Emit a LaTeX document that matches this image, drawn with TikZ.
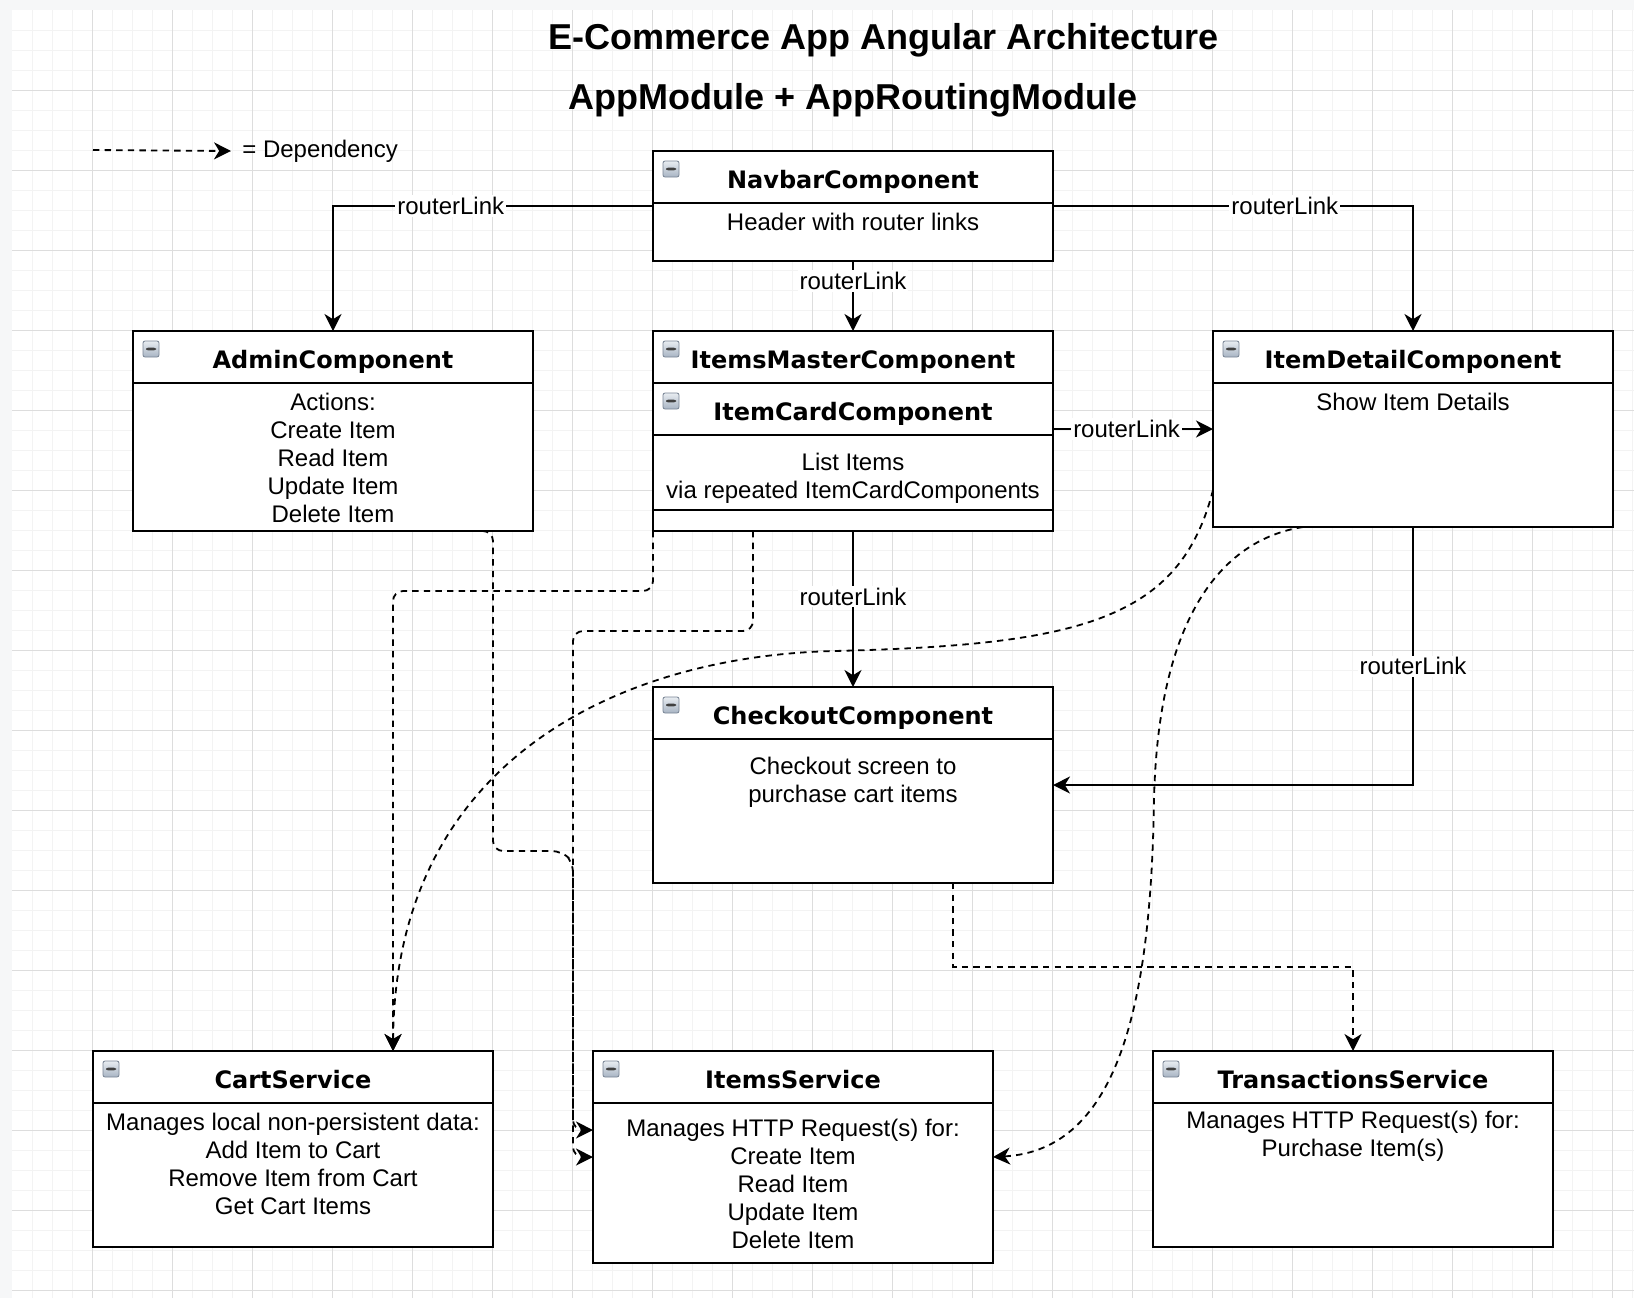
\documentclass[tikz,border=0pt]{standalone}
\usepackage{fontspec}
\setmainfont{Liberation Sans}
\newfontfamily\verdanaish{DejaVu Sans}
\usetikzlibrary{arrows.meta,calc}
\pgfdeclarelayer{background layer}
\pgfsetlayers{background layer,main}
\definecolor{outside}{RGB}{246,247,248}
\definecolor{gridminor}{RGB}{243,243,243}
\definecolor{gridmajor}{RGB}{221,221,221}
\definecolor{icontop}{RGB}{232,236,241}
\definecolor{iconbot}{RGB}{168,180,195}
\definecolor{iconedge}{RGB}{120,132,148}

\begin{document}
\begin{tikzpicture}[x=0.5pt,y=-0.5pt]
\tikzstyle{umlbox}=[draw=black,line width=0.9pt,fill=white,anchor=north west,minimum width=200pt,inner sep=0pt,outer sep=0pt]
\tikzstyle{hdr}=[font=\verdanaish\bfseries\fontsize{12}{14}\selectfont,anchor=base,inner sep=0pt]
\tikzstyle{bodytext}=[font=\fontsize{12}{14}\selectfont,align=center,anchor=north,inner sep=0pt,execute at begin node=\strut]
\tikzstyle{title}=[font=\bfseries\fontsize{18}{22}\selectfont,inner sep=0pt]
\tikzstyle{lbl}=[font=\fontsize{12}{14}\selectfont,fill=white,inner sep=1pt]
\tikzstyle{arrow}=[line width=0.9pt,-{Stealth[length=8.5pt,width=8.5pt,inset=2.6pt]}]
\tikzstyle{dep}=[arrow,dash pattern=on 3.2pt off 2.6pt]
\tikzstyle{icon}=[draw=iconedge,line width=0.4pt,rounded corners=1pt,top color=icontop,bottom color=iconbot,minimum size=8pt,inner sep=0pt,
  path picture={\fill [black!75] ($(path picture bounding box.center)+(-5,-1.3)$) rectangle ($(path picture bounding box.center)+(5,1.3)$);}]
\useasboundingbox (0,0) rectangle (1634,1298);
\begin{pgfonlayer}{background layer}
\fill [outside] (0,0) rectangle (1634,1298);
\fill [white] (12,10) rectangle (1634,1298);
\foreach \x in {32,52,...,1632} \draw [gridminor,line width=0.5pt] (\x,10) -- (\x,1298);
\foreach \y in {30,50,...,1290} \draw [gridminor,line width=0.5pt] (12,\y) -- (1634,\y);
\foreach \x in {92,172,...,1612} \draw [gridmajor,line width=0.5pt] (\x,10) -- (\x,1298);
\foreach \y in {90,170,...,1290} \draw [gridmajor,line width=0.5pt] (12,\y) -- (1634,\y);
\end{pgfonlayer}

% titles and legend
\node [title] at (884,40) (title1) {E-Commerce App Angular Architecture};
\node [title] at (853,100) (title2) {AppModule + AppRoutingModule};
\coordinate (legstart) at (93,150);
\node [font=\fontsize{12}{14}\selectfont,anchor=west,inner xsep=5.5pt,inner ysep=0pt] at (231,151) (legtxt) {= Dependency};
\draw [dep] (legstart) -- (legtxt.west);

% boxes
\node [umlbox,minimum height=55pt] at (653,151) (navbar) {};
\node [umlbox,minimum height=100pt] at (133,331) (admin) {};
\node [umlbox,minimum height=100pt] at (653,331) (master) {};
\node [umlbox,minimum height=98pt] at (1213,331) (detail) {};
\node [umlbox,minimum height=98pt] at (653,687) (checkout) {};
\node [umlbox,minimum height=98pt] at (93,1051) (cart) {};
\node [umlbox,minimum height=106pt] at (593,1051) (itemsvc) {};
\node [umlbox,minimum height=98pt] at (1153,1051) (trans) {};

\foreach \b in {navbar,admin,master,detail,checkout,cart,itemsvc,trans} {
  \draw [line width=0.9pt] ($(\b.north west)+(0,52)$) -- ($(\b.north east)+(0,52)$);
  \node [icon] at ($(\b.north west)+(18,18)$) (\b-icon) {};
}
\draw [line width=0.9pt] ($(master.north west)+(0,104)$) -- ($(master.north east)+(0,104)$);
\draw [line width=0.9pt] ($(master.south west)+(0,-21)$) -- ($(master.south east)+(0,-21)$);
\node [icon] at ($(master.north west)+(18,70)$) (card-icon) {};

% headers
\node [hdr] at ($(navbar.north)+(0,37)$) (navbar-title) {NavbarComponent};
\node [hdr] at ($(admin.north)+(0,37)$) (admin-title) {AdminComponent};
\node [hdr] at ($(master.north)+(0,37)$) (master-title) {ItemsMasterComponent};
\node [hdr] at ($(master.north)+(0,89)$) (card-title) {ItemCardComponent};
\node [hdr] at ($(detail.north)+(0,37)$) (detail-title) {ItemDetailComponent};
\node [hdr] at ($(checkout.north)+(0,37)$) (checkout-title) {CheckoutComponent};
\node [hdr] at ($(cart.north)+(0,37)$) (cart-title) {CartService};
\node [hdr] at ($(itemsvc.north)+(0,37)$) (itemsvc-title) {ItemsService};
\node [hdr] at ($(trans.north)+(0,37)$) (trans-title) {TransactionsService};

% bodies
\node [bodytext] at ($(navbar.north)+(0,59)$) (navbar-body) {Header with router links};
\node [bodytext] at ($(admin.north)+(0,62)$) (admin-body) {Actions:\\Create Item\\Read Item\\Update Item\\Delete Item};
\node [bodytext] at ($(master.north)+(0,122)$) (master-body) {List Items\\via repeated ItemCardComponents};
\node [bodytext] at ($(detail.north)+(0,59)$) (detail-body) {Show Item Details};
\node [bodytext] at ($(checkout.north)+(0,70)$) (checkout-body) {Checkout screen to\\purchase cart items};
\node [bodytext] at ($(cart.north)+(0,62)$) (cart-body) {Manages local non-persistent data:\\Add Item to Cart\\Remove Item from Cart\\Get Cart Items};
\node [bodytext] at ($(itemsvc.north)+(0,68)$) (itemsvc-body) {Manages HTTP Request(s) for:\\Create Item\\Read Item\\Update Item\\Delete Item};
\node [bodytext] at ($(trans.north)+(0,60)$) (trans-body) {Manages HTTP Request(s) for:\\Purchase Item(s)};

% router links
\draw [arrow] (navbar.west) -| node [lbl,pos=0.316] (lbl-admin) {routerLink} (admin.north);
\draw [arrow] (navbar.east) -| node [lbl,pos=0.322] (lbl-detail) {routerLink} (detail.north);
\draw [arrow] (navbar.south) -- node [lbl,pos=0.29] (lbl-master) {routerLink} (master.north);
\draw [arrow] (master.east |- detail.west) -- node [lbl,pos=0.46] (lbl-card) {routerLink} (detail.west);
\draw [arrow] (master.south) -- node [lbl,pos=0.42] (lbl-checkout) {routerLink} (checkout.north);
\draw [arrow] (detail.south) |- node [lbl,pos=0.27] (lbl-back) {routerLink} (checkout.east);

% dependencies
\coordinate (cartcurve) at (834,651);
\coordinate (itemcurve) at (1154,800);
\draw [dep] ($(admin.south)+(149,0)$) [rounded corners=5pt] -- ++(11,0) -- ++(0,320) -- ++(69,0) -- ++(11,11) -- ($(itemsvc.west)+(-20,-27)$) [sharp corners] -- ($(itemsvc.west)+(0,-27)$);
\draw [dep] ($(master.south)+(-100,0)$) [rounded corners=5pt] -- ++(0,100) -| ($(itemsvc.west)+(-20,0)$) [sharp corners] -- (itemsvc.west);
\draw [dep,rounded corners=5pt] (master.south west) -- ++(0,60) -| ($(cart.north)+(100,0)$);
\draw [dep] ($(detail.west)+(0,61)$) .. controls +(-33,130) and +(246,-6) .. (cartcurve) .. controls +(-214,5) and +(2,-291) .. ($(cart.north)+(100,0)$);
\draw [dep] ($(detail.south)+(-110,0)$) .. controls +(-83,13) and +(4,-180) .. (itemcurve) .. controls +(-3,200) and +(127,-7) .. (itemsvc.east);
\draw [dep] ($(checkout.south)+(100,0)$) -- ++(0,84) -| (trans.north);
\end{tikzpicture}
\end{document}
